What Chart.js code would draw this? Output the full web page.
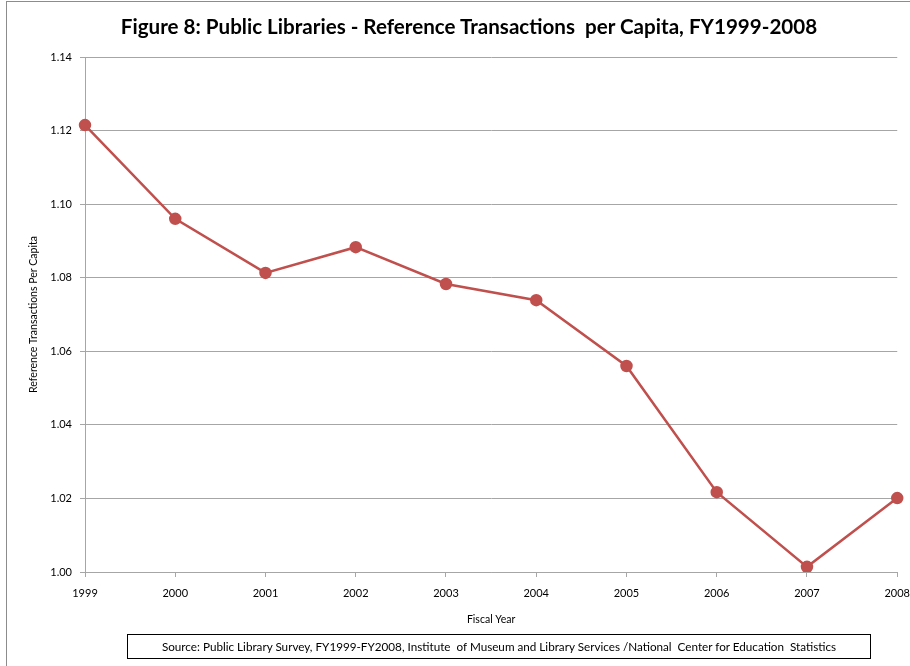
<!DOCTYPE html>
<html>
<head>
<meta charset="utf-8">
<script src="https://cdn.jsdelivr.net/npm/chart.js@4"></script>
<style>
  html, body { margin: 0; padding: 0; background: #fff; overflow: hidden; }
  #wrap { position: relative; width: 910px; height: 666px; overflow: hidden; }
  #frame { position: absolute; left: 6px; top: 1px; width: 1000px; height: 1000px; border: 1px solid #8c8c8c; }
  #chart { position: absolute; left: 0; top: 0; }
  #title {
    position: absolute; left: 0; top: 14px; width: 938px; text-align: center;
    font: bold 20.6px Lato, sans-serif; color: #000;
  }
  #source {
    position: absolute; left: 127px; top: 634px; width: 744px; height: 25px;
    border: 1px solid #000; box-sizing: border-box;
    font: 11.7px Lato, sans-serif; line-height: 23px; text-align: center; color: #000;
  }
</style>
</head>
<body>
<div id="wrap">
  <div id="frame"></div>
  <canvas id="chart" width="920" height="666"></canvas>
  <div id="title">Figure 8: Public Libraries - Reference Transactions&nbsp; per Capita, FY1999-2008</div>
  <div id="source">Source: Public Library Survey, FY1999-FY2008, Institute&nbsp; of Museum and Library Services /National&nbsp; Center for Education&nbsp; Statistics</div>
</div>
<script>
// Chart data
const years = ['1999', '2000', '2001', '2002', '2003', '2004', '2005', '2006', '2007', '2008'];
const refPerCapita = [1.1215, 1.0960, 1.0813, 1.0883, 1.0783, 1.0739, 1.0560, 1.0217, 1.0014, 1.0201];
const yTicks = [1.00, 1.02, 1.04, 1.06, 1.08, 1.10, 1.12, 1.14];

const lineColor = '#C0504D';
const gridColor = '#a6a6a6';

new Chart(document.getElementById('chart').getContext('2d'), {
    type: 'line',
    data: {
        labels: years,
        datasets: [{
            label: 'Reference Transactions Per Capita',
            data: refPerCapita,
            borderColor: lineColor,
            backgroundColor: lineColor,
            borderWidth: 2.5,
            pointRadius: 5,
            pointHoverRadius: 5,
            tension: 0
        }]
    },
    options: {
        responsive: false,
        animation: false,
        layout: {
            padding: { left: 0, right: 0, top: 57, bottom: 36 }
        },
        plugins: {
            legend: { display: false },
            tooltip: { enabled: false },
            title: { display: false }
        },
        scales: {
            x: {
                offset: false,
                grid: {
                    drawOnChartArea: false,
                    color: gridColor,
                    tickLength: 5
                },
                border: { color: gridColor },
                ticks: {
                    color: '#000',
                    font: { family: 'Lato', size: 11 },
                    maxRotation: 0,
                    padding: 10
                },
                title: {
                    display: true,
                    text: 'Fiscal Year',
                    color: '#000',
                    font: { family: 'Lato', size: 10.5 },
                    padding: { top: 4 }
                },
                afterFit: function(scale) { scale.height = 58; }
            },
            y: {
                min: 1.00,
                max: 1.14,
                afterBuildTicks: function(scale) {
                    scale.ticks = yTicks.map(function(v) { return { value: v }; });
                },
                grid: {
                    color: gridColor,
                    tickLength: 5
                },
                border: { color: gridColor },
                ticks: {
                    color: '#000',
                    font: { family: 'Lato', size: 11 },
                    padding: 8,
                    callback: function(value) { return value.toFixed(2); }
                },
                title: {
                    display: true,
                    text: 'Reference Transactions Per Capita',
                    color: '#000',
                    font: { family: 'Lato', size: 10.5 },
                    padding: { top: 27, bottom: 0 }
                },
                afterFit: function(scale) { scale.width = 85; }
            }
        }
    }
});
</script>
</body>
</html>
